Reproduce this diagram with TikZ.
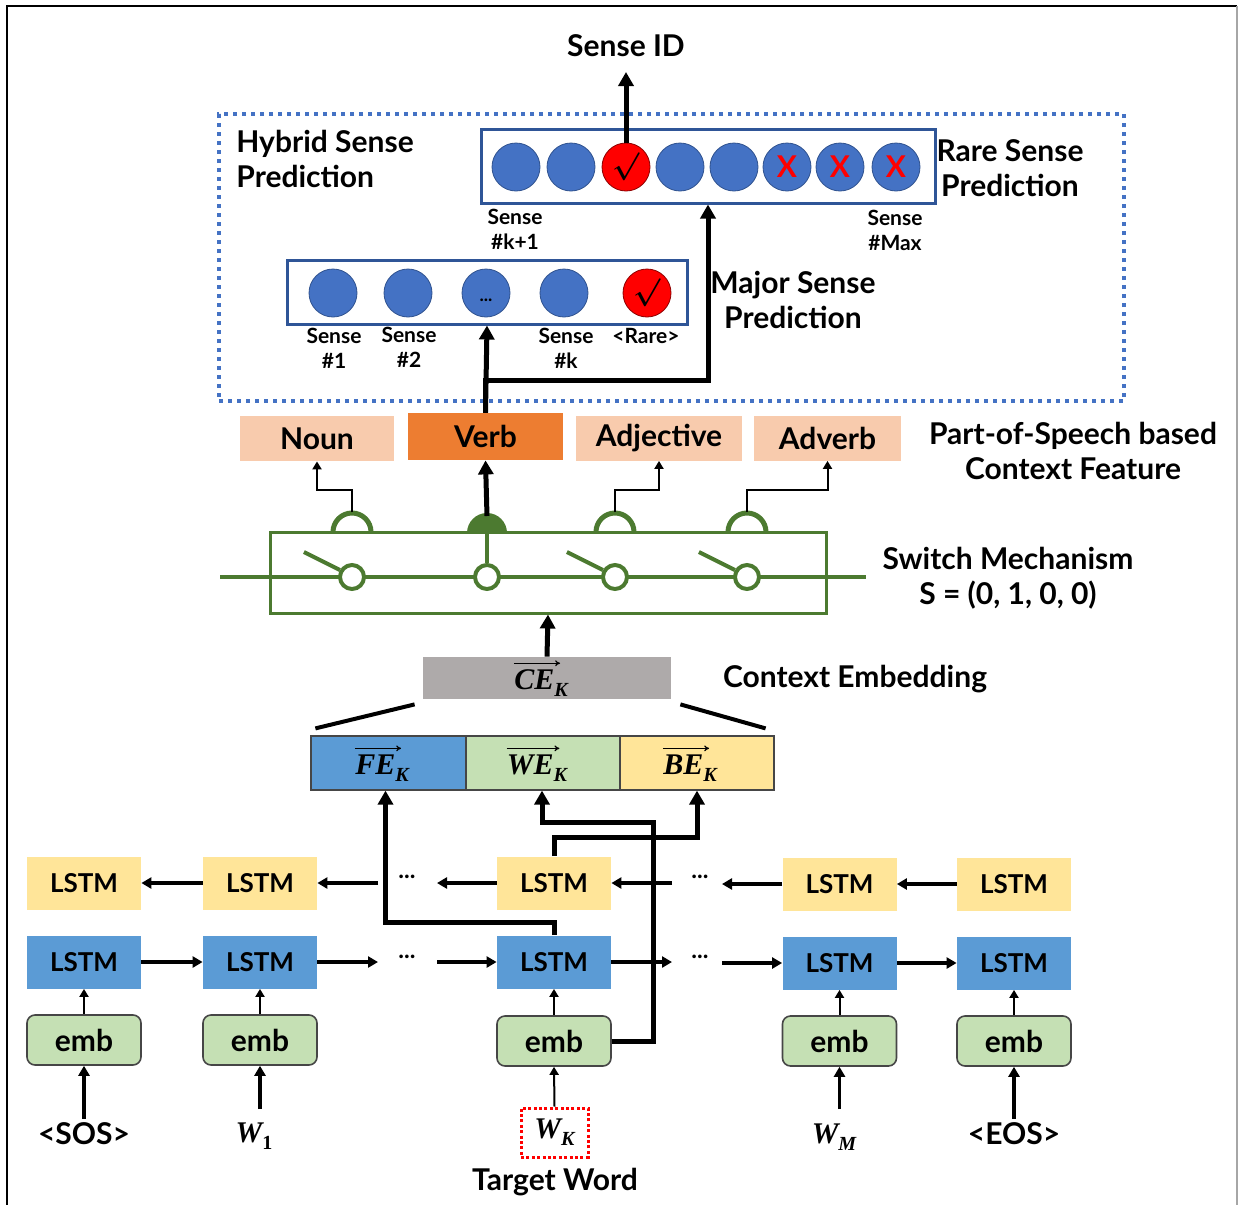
\RequirePackage{fix-cm}
\documentclass[tikz,border=0pt]{standalone}
\usepackage{amsmath,amssymb}
\usepackage[no-math]{fontspec}
\setmainfont{Lato}
\newfontfamily\cambfont{Liberation Serif}
\newcommand{\bwi}[2]{{\cambfont\bfseries\itshape #1}\raisebox{-0.45ex}{\cambfont\bfseries\itshape\fontsize{10}{10}\selectfont #2}}
\newcommand{\bwu}[2]{{\cambfont\bfseries\itshape #1}\raisebox{-0.45ex}{\cambfont\bfseries\fontsize{10}{10}\selectfont #2}}
\usetikzlibrary{arrows.meta,calc}
\definecolor{cblue}{RGB}{68,114,196}
\definecolor{cblueD}{RGB}{47,82,143}
\definecolor{boxblue}{RGB}{47,85,151}
\definecolor{lblue}{RGB}{91,155,213}
\definecolor{lyellow}{RGB}{255,229,153}
\definecolor{lgreen}{RGB}{197,224,180}
\definecolor{embD}{RGB}{70,70,70}
\definecolor{peach}{RGB}{248,203,173}
\definecolor{orng}{RGB}{237,125,49}
\definecolor{cegray}{RGB}{174,170,170}
\definecolor{sgreen}{RGB}{76,122,48}
\begin{document}
\begin{tikzpicture}[x=0.5pt,y=-0.5pt,
  lbl/.style={font=\fontsize{15}{17.5}\selectfont\bfseries, align=center, inner sep=0pt},
  sml/.style={font=\fontsize{10.5}{12.5}\selectfont\bfseries, align=center, inner sep=0pt},
  bc/.style={circle, fill=cblue, draw=cblueD, line width=0.4pt, minimum size=24pt, inner sep=0pt},
  rc/.style={bc, fill=red, draw=red!55!black},
  xm/.style={text=red, font=\fontsize{15}{16}\selectfont\bfseries},
  posbox/.style={fill=peach, minimum height=22.5pt, inner sep=0pt, font=\fontsize{15}{16}\selectfont\bfseries},
  lstmF/.style={fill=lblue, minimum width=57pt, minimum height=26.5pt, inner sep=0pt, font=\fontsize{13}{14}\selectfont\bfseries},
  lstmB/.style={lstmF, fill=lyellow},
  embbox/.style={fill=lgreen, draw=embD, line width=0.8pt, rounded corners=4pt, minimum width=57pt, minimum height=25pt, inner sep=0pt, font=\fontsize{15}{15}\selectfont\bfseries},
  vecbox/.style={draw=embD, line width=0.6pt, minimum width=77pt, minimum height=27pt, inner sep=0pt},
  vtxt/.style={inner sep=0pt, font=\fontsize{15}{16}\selectfont},
  varr/.style={line width=0.6pt, -{To[length=2.5pt,width=3pt]}},
  thk/.style={line width=2.5pt, -{Triangle[length=7pt,width=7.5pt]}},
  med/.style={line width=1.6pt, -{Triangle[length=5pt,width=5.5pt]}},
  thn/.style={line width=1pt, -{Triangle[length=4pt,width=4.5pt]}},
  gl/.style={draw=sgreen, line width=2pt},
  swc/.style={circle, draw=sgreen, fill=white, line width=2pt, minimum size=12pt, inner sep=0pt},
  dts/.style={font=\fontsize{12}{14}\selectfont\bfseries, inner sep=0pt},
]
\useasboundingbox (0,0) rectangle (1238,1205);
% outer frame
\draw[line width=1pt] (7,1205) -- (7,6) -- (1237,6);
\draw[line width=0.8pt, gray!70] (1237,6) -- (1237,1205);

% ---------------- top: hybrid sense prediction
\node[lbl] (sid) at (626,46) {Sense ID};
\coordinate (sidtip) at (626,72);
\node[draw=cblue, line width=2pt, dash pattern=on 2pt off 2.5pt, minimum width=452.5pt, minimum height=143.5pt, inner sep=0pt] (hyb) at (671.5,257.5) {};
\node[lbl, align=left, anchor=west] (hybt) at (236,159) {Hybrid Sense\\Prediction};

\node[draw=boxblue, line width=1.5pt, minimum width=227pt, minimum height=37pt, inner sep=0pt] (rare) at (708,166) {};
\node[bc] (r1) at (516,167) {};
\node[bc] (r2) at (571,167) {};
\node[rc] (r3) at (626,167) {\fontsize{14}{16}\selectfont$\boldsymbol{\surd}$};
\node[bc] (r4) at (680,167) {};
\node[bc] (r5) at (734,167) {};
\node[bc, xm] (r6) at (787,167) {X};
\node[bc, xm] (r7) at (840,167) {X};
\node[bc, xm] (r8) at (896,167) {X};
\draw[thk] (r3.north) -- (sidtip);
\node[lbl] (raret) at (1010,168) {Rare Sense\\Prediction};
\node[sml] (sk1) at (515,229) {Sense\\\#k+1};
\node[sml] (smax) at (895,230) {Sense\\\#Max};

\node[draw=boxblue, line width=1.5pt, minimum width=200pt, minimum height=32pt, inner sep=0pt] (major) at (487,292) {};
\node[bc] (m1) at (333,293) {};
\node[bc] (m2) at (408,293) {};
\node[bc] (m3) at (486,293) {};
\node[font=\fontsize{9}{10}\selectfont\bfseries, inner sep=0pt] (m3d) at (486,300) {...};
\node[bc] (m4) at (564,293) {};
\node[rc] (m5) at (647,293) {\fontsize{14}{16}\selectfont$\boldsymbol{\surd}$};
\node[sml] (s1l) at (334,348) {Sense\\\#1};
\node[sml] (s2l) at (409,347) {Sense\\\#2};
\node[sml] (skl) at (566,348) {Sense\\\#k};
\node[sml] (rarel) at (646,336) {<Rare>};
\node[lbl] (majt) at (793,300) {Major Sense\\Prediction};

% ---------------- POS boxes
\node[posbox, minimum width=77pt] (noun) at (317,438.5) {Noun};
\node[posbox, fill=orng, minimum width=77.5pt, minimum height=23.5pt] (verb) at (485.5,436.5) {Verb};
\node[posbox, minimum width=83pt] (adj) at (659,438) {Adjective};
\node[posbox, minimum width=73.5pt] (adv) at (827.5,438) {Adverb};
\node[lbl] (post) at (1073,451) {Part-of-Speech based\\Context Feature};

\draw[thk] (verb.north) -- (major.south);
\draw[thk] (verb.north) -- ++(0,-32) -| (rare.south);

% ---------------- switch mechanism
\node[draw=sgreen, line width=1.5pt, minimum width=278pt, minimum height=40.5pt, inner sep=0pt] (sw) at (548,572.5) {};
\draw[gl] (220,577) -- (866,577);
\node[swc] (s1) at (352,577) {};
\node[swc] (s2) at (487,577) {};
\node[swc] (s3) at (615,577) {};
\node[swc] (s4) at (747,577) {};
\draw[gl] (s1.150) -- ++(-36,-18);
\draw[gl] (s3.150) -- ++(-36,-18);
\draw[gl] (s4.150) -- ++(-36,-18);
\draw[gl] (s2.north) -- (487,532);
\foreach \xx in {352,615,747}
  \draw[sgreen, line width=2.5pt] (\xx-19,532) arc[start angle=180, end angle=360, radius=19];
\fill[sgreen] (467,533) arc[start angle=180, end angle=360, radius=20] -- cycle;
\coordinate (d1) at (352,512);
\coordinate (d2) at (487,516);
\coordinate (d3) at (615,512);
\coordinate (d4) at (747,512);
\draw[thn] (d1) -- ++(0,-22) -| (noun.south);
\draw[thn] (d3) -- ++(0,-22) -| (adj.south);
\draw[thn] (d4) -- ++(0,-22) -| (adv.south);
\draw[thk] (d2) -- (verb.south);
\node[lbl] (swt) at (1008,578) {Switch Mechanism\\S = (0, 1, 0, 0)};

% ---------------- context embedding
\node[fill=cegray, minimum width=124pt, minimum height=21pt, inner sep=0pt] (ce) at (547,678) {};
\node[vtxt] (cetx) at (541,683) {\bwi{CE}{K}};
\draw[varr] ([yshift=3pt]cetx.north west) -- ([yshift=3pt,xshift=-4pt]cetx.north east);
\draw[thk] (ce.north) -- (sw.south);
\node[lbl] (cet) at (855,679) {Context Embedding};

\node[vecbox, fill=lblue, minimum width=77.5pt] (fe) at (388.5,763) {};
\node[vecbox, fill=lgreen] (we) at (543,763) {};
\node[vecbox, fill=lyellow] (be) at (697,763) {};
\node[vtxt] (fetx) at (382,768) {\bwi{FE}{K}};
\node[vtxt] (wetx) at (537,768) {\bwi{WE}{K}};
\node[vtxt] (betx) at (690,768) {\bwi{BE}{K}};
\draw[varr] ([yshift=3pt]fetx.north west) -- ([yshift=3pt,xshift=-4pt]fetx.north east);
\draw[varr] ([yshift=3pt]wetx.north west) -- ([yshift=3pt,xshift=-4pt]wetx.north east);
\draw[varr] ([yshift=3pt]betx.north west) -- ([yshift=3pt,xshift=-4pt]betx.north east);
\draw[line width=2pt] ($(ce.south west)+(-8,5)$) -- ($(fe.north west)+(5,-7)$);
\draw[line width=2pt] ($(ce.south east)+(9,5)$) -- ($(be.north east)+(-9,-7)$);

% ---------------- LSTM rows
\node[lstmB] (lb1) at (84,883) {LSTM};
\node[lstmB] (lb2) at (260,883) {LSTM};
\node[lstmB] (lb3) at (554,883) {LSTM};
\node[lstmB] (lb4) at (839.5,884) {LSTM};
\node[lstmB] (lb5) at (1014,884) {LSTM};
\node[lstmF] (lf1) at (84,962) {LSTM};
\node[lstmF] (lf2) at (260,962) {LSTM};
\node[lstmF] (lf3) at (554,962) {LSTM};
\node[lstmF] (lf4) at (839.5,963) {LSTM};
\node[lstmF] (lf5) at (1014,963) {LSTM};
\node[embbox] (e1) at (84,1040) {emb};
\node[embbox] (e2) at (260,1040) {emb};
\node[embbox] (e3) at (554,1041) {emb};
\node[embbox] (e4) at (839.5,1041) {emb};
\node[embbox] (e5) at (1014,1041) {emb};

\node[dts] (db1) at (407,877) {...};
\node[dts] (db2) at (700,877) {...};
\node[dts] (df1) at (407,957) {...};
\node[dts] (df2) at (700,957) {...};

\coordinate (bA) at (378,883);
\coordinate (bB) at (437,883);
\coordinate (bC) at (672,883);
\coordinate (bD) at (722,884);
\coordinate (fA) at (378,962);
\coordinate (fB) at (437,962);
\coordinate (fC) at (672,962);
\coordinate (fD) at (722,963);

\draw[med] (lb2.west) -- (lb1.east);
\draw[med] (bA) -- (lb2.east);
\draw[med] (lb3.west) -- (bB);
\draw[med] (bC) -- (lb3.east);
\draw[med] (lb4.west) -- (bD);
\draw[med] (lb5.west) -- (lb4.east);

\draw[med] (lf1.east) -- (lf2.west);
\draw[med] (lf2.east) -- (fA);
\draw[med] (fB) -- (lf3.west);
\draw[med] (lf3.east) -- (fC);
\draw[med] (fD) -- (lf4.west);
\draw[med] (lf4.east) -- (lf5.west);

\foreach \i in {1,...,5} \draw[thn] (e\i.north) -- (lf\i.south);

% connectors to FE / WE / BE
\coordinate (wkc) at (653,822);
\draw[thk] (lf3.north) -- ++(0,-13) -| ([xshift=-1.5pt]fe.south);
\draw[thk] (lb3.north) -- ++(0,-19) -| (be.south);
\draw[thk] (e3.east) -| (wkc) -| ([xshift=-0.5pt]we.south);

% ---------------- words
\node[lbl] (w1) at (84,1134) {<SOS>};
\node[vtxt] (w2) at (254,1136) {\bwu{W}{1}};
\node[draw=red, line width=1.5pt, dash pattern=on 1.5pt off 1.2pt, minimum width=33.5pt, minimum height=24.5pt, inner sep=0pt, font=\fontsize{15}{16}\selectfont] (w3) at (554.5,1132.5) {\bwi{W}{K}};
\node[vtxt] (w4) at (834,1137) {\bwi{W}{M}};
\node[lbl] (w5) at (1014,1134) {<EOS>};
\node[lbl] (tw) at (555,1182) {Target Word};

\draw[med] ([yshift=2pt]w1.north) -- (e1.south);
\draw[med] (260,1109) -- (e2.south);
\draw[thn] (w3.north) -- (e3.south);
\draw[med] (839.5,1109) -- (e4.south);
\draw[med] ([yshift=2pt]w5.north) -- (e5.south);
\end{tikzpicture}
\end{document}
